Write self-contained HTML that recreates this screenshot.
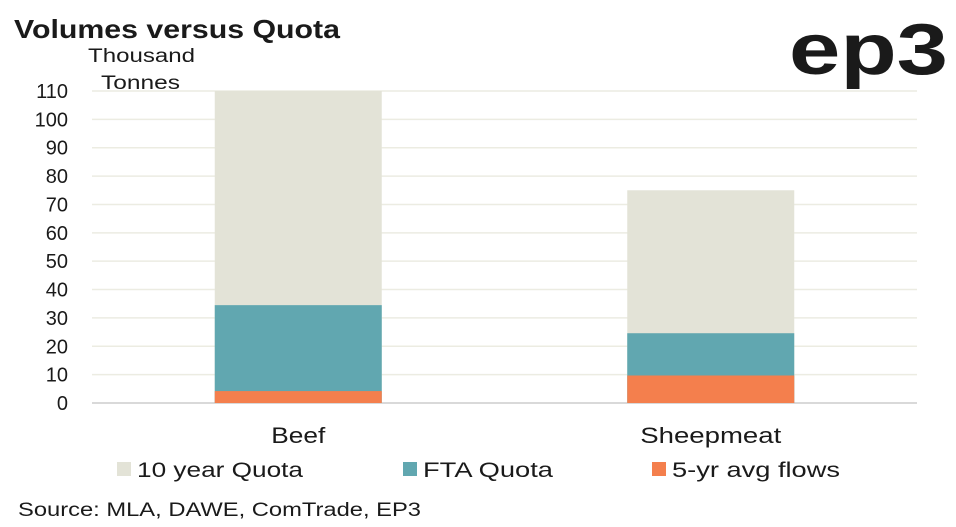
<!DOCTYPE html>
<html><head><meta charset="utf-8"><style>
body{margin:0;background:#fff;font-family:"Liberation Sans",sans-serif;}
#wrap{position:relative;width:956px;height:527px;overflow:hidden;}
</style></head><body>
<div id="wrap">
<svg id="svg" width="956" height="527" xmlns="http://www.w3.org/2000/svg">
<text x="14" y="38" font-size="26" font-weight="bold" fill="#1a1a1a" textLength="326" lengthAdjust="spacingAndGlyphs">Volumes versus Quota</text>
<text x="88" y="62" font-size="19" fill="#1a1a1a" textLength="107" lengthAdjust="spacingAndGlyphs">Thousand</text>
<text x="101" y="89" font-size="19" fill="#1a1a1a" textLength="79" lengthAdjust="spacingAndGlyphs">Tonnes</text>
<text x="789" y="74" font-size="72" font-weight="bold" fill="#1a1a1a" textLength="159" lengthAdjust="spacingAndGlyphs">ep3</text>
<g id="grid"></g><g id="bars"></g><g id="yt"></g><g id="xt"></g>
<g>
<rect x="117" y="462" width="14" height="14" fill="#e3e3d7"/>
<text x="137" y="477" font-size="21" fill="#1a1a1a" textLength="166" lengthAdjust="spacingAndGlyphs">10 year Quota</text>
<rect x="403" y="462" width="14" height="14" fill="#61a7b0"/>
<text x="423" y="477" font-size="21" fill="#1a1a1a" textLength="130" lengthAdjust="spacingAndGlyphs">FTA Quota</text>
<rect x="652" y="462" width="14" height="14" fill="#f47f4d"/>
<text x="672" y="477" font-size="21" fill="#1a1a1a" textLength="168" lengthAdjust="spacingAndGlyphs">5-yr avg flows</text>
</g>
<text x="18" y="516" font-size="19" fill="#1a1a1a" textLength="403" lengthAdjust="spacingAndGlyphs">Source: MLA, DAWE, ComTrade, EP3</text>
</svg></div>
<script>
const categories=["Beef","Sheepmeat"];
const quota10=[110,75];
const ftaQuota=[34.5,24.6];
const flows=[4.2,9.7];
const yTicks=[0,10,20,30,40,50,60,70,80,90,100,110];
const NS="http://www.w3.org/2000/svg";
const x0=92,x1=917,yBase=403,yTop=91,yMax=110;
const y=v=>yBase-(v/yMax)*(yBase-yTop);
const band=(x1-x0)/categories.length;
const bw=167;
const labelW={"Beef":54,"Sheepmeat":141};
function mk(t,a,p){const e=document.createElementNS(NS,t);for(const k in a)e.setAttribute(k,a[k]);p.appendChild(e);return e;}
const grid=document.getElementById('grid'),yt=document.getElementById('yt'),bars=document.getElementById('bars'),xt=document.getElementById('xt');
yTicks.forEach(v=>{
 const l=mk('line',{x1:x0,x2:x1,y1:y(v),y2:y(v),stroke:v===0?'#d9d9d9':'#ecece2','stroke-width':v===0?2:1.5},grid);
 
 
 const t=mk('text',{x:68,y:y(v)+7,'font-size':20,fill:'#1a1a1a','text-anchor':'end'},yt);
 t.textContent=v;
 
 
});
const series=[[quota10,'#e3e3d7','10yr-quota'],[ftaQuota,'#61a7b0','fta-quota'],[flows,'#f47f4d','flows']];
categories.forEach((c,i)=>{
 const cx=x0+band*(i+0.5);
 series.forEach(s=>{
  const r=mk('rect',{x:cx-bw/2,y:y(s[0][i]),width:bw,height:yBase-y(s[0][i]),fill:s[1]},bars);
  
  
 });
 const t=mk('text',{x:cx,y:443,'font-size':22,fill:'#1a1a1a','text-anchor':'middle',textLength:labelW[c]||60,lengthAdjust:'spacingAndGlyphs'},xt);
 t.textContent=c;
 
 
});
</script>
</body></html>
